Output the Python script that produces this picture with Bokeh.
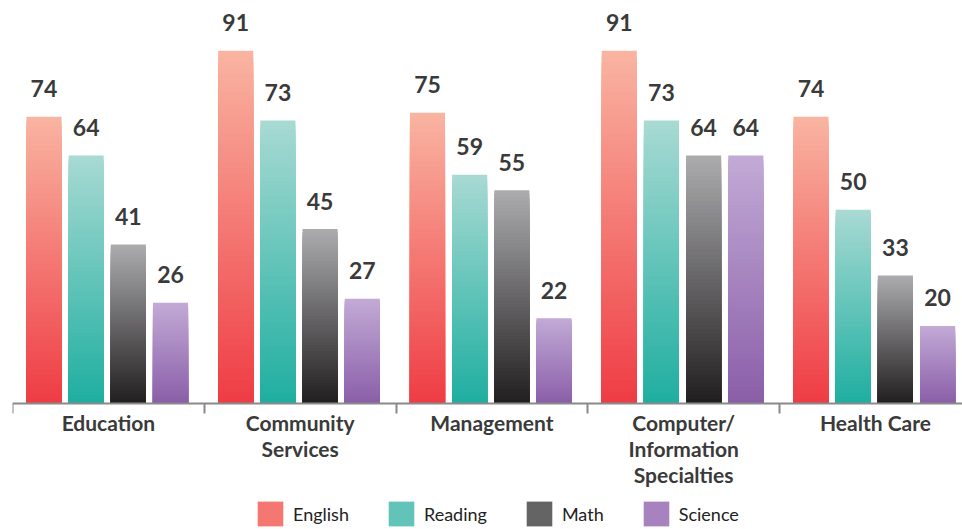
from bokeh.plotting import figure
from bokeh.models import ColumnDataSource, Range1d, FixedTicker, Legend, LegendItem
from bokeh.core.properties import value
from bokeh.embed import file_html
from bokeh.resources import INLINE

# ---- data ----
categories = ["Education", "Community\nServices", "Management",
              "Computer/\nInformation\nSpecialties", "Health Care"]
series_names = ["English", "Reading", "Math", "Science"]
english = [74, 91, 75, 91, 74]
reading = [64, 73, 59, 73, 50]
math = [41, 45, 55, 64, 33]
science = [26, 27, 22, 64, 20]

# ---- styles ----
top_colors = [(249, 180, 162), (168, 218, 211), (172, 172, 174), (194, 170, 214)]
bottom_colors = [(239, 60, 68), (30, 174, 160), (33, 30, 31), (138, 94, 168)]
N_SLICES = 60
STEP = 0.22
BAR_W = 0.183
FONT = "Lato"
PX_PER_UNIT = 395 / 101.9
BELOW_PX = 126

def mix(c0, c1, t):
    return "#%02x%02x%02x" % tuple(int(round(a + (b - a) * t)) for a, b in zip(c0, c1))

n = len(categories)
p = figure(frame_width=950, frame_height=395 + BELOW_PX,
           x_range=Range1d(0, 4.954), y_range=Range1d(-BELOW_PX / PX_PER_UNIT, 101.9),
           y_axis_location=None, output_backend="svg", toolbar_location=None,
           min_border_left=12, min_border_right=0, min_border_top=8, min_border_bottom=0)
p.outline_line_color = None
p.grid.visible = False
p.background_fill_color = "white"
p.border_fill_color = "white"

legend_items = []
all_vals = [english, reading, math, science]
for si, (name, vals) in enumerate(zip(series_names, all_vals)):
    off = (si - 1.5) * STEP
    xs, tops, cols = [], [], []
    for k in range(N_SLICES):
        f = 1 - k / N_SLICES
        c = mix(bottom_colors[si], top_colors[si], 1 - (k + 0.5) / N_SLICES)
        for gi, v in enumerate(vals):
            xs.append(gi + 0.494 + off)
            tops.append(v * f)
            cols.append(c)
    src = ColumnDataSource(dict(x=xs, top=tops, color=cols))
    r = p.vbar(x="x", top="top", bottom=0, width=BAR_W, fill_color="color",
               line_color=None, source=src)
    legend_items.append(LegendItem(label=name, renderers=[r], index=(N_SLICES // 2) * n))

    lab_src = ColumnDataSource(dict(x=[gi + 0.494 + off for gi in range(n)], y=vals,
                                    t=[str(v) for v in vals]))
    p.text(x="x", y="y", text="t", source=lab_src, text_align="center",
           text_baseline="alphabetic", y_offset=-28, text_font=value(FONT),
           text_font_style="bold", text_font_size="23px", text_color="#3a3a3a")

ax = p.xaxis[0]
ax.fixed_location = 0
centers = [i + 0.5 for i in range(n)]
ax.ticker = FixedTicker(ticks=centers, minor_ticks=list(range(n + 1)))
ax.major_label_overrides = {c: lab for c, lab in zip(centers, categories)}
ax.major_tick_line_color = None
ax.major_tick_out = 0
ax.major_tick_in = 0
ax.minor_tick_out = 10
ax.minor_tick_in = 0
ax.minor_tick_line_color = "#8a8a8a"
ax.minor_tick_line_width = 2
ax.axis_line_color = "#8a8a8a"
ax.axis_line_width = 2
ax.major_label_standoff = -4
ax.major_label_text_font = FONT
ax.major_label_text_font_style = "bold"
ax.major_label_text_font_size = "21px"
ax.major_label_text_color = "#3a3a3a"
ax.major_label_text_line_height = 1.05

legend = Legend(items=legend_items, orientation="horizontal", location=(242, 0),
                glyph_width=32, glyph_height=31, label_text_font=FONT,
                label_text_font_size="18px", label_text_color="#222222",
                label_standoff=7, spacing=36, border_line_color=None,
                background_fill_alpha=0, padding=0, margin=0)
p.add_layout(legend, "center")

open("out.html", "w").write(file_html(p, INLINE))
